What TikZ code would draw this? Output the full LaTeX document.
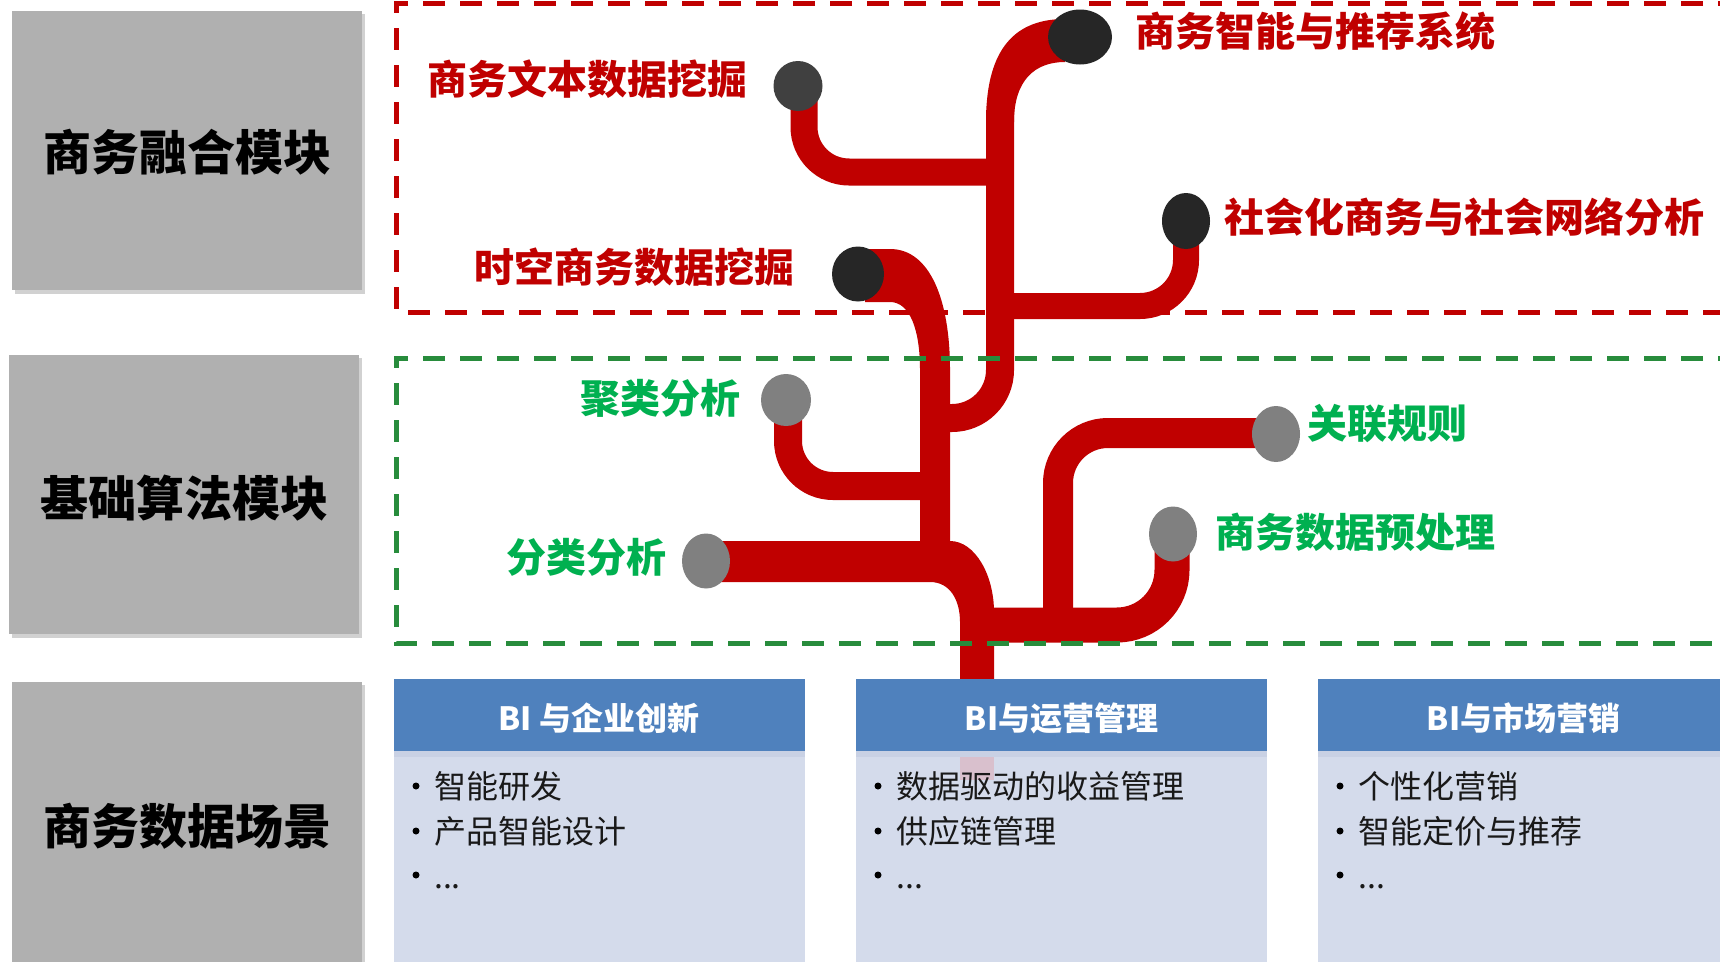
\documentclass[tikz,border=0pt]{standalone}
\usepackage{fontspec}
\newfontfamily\cjk{Noto Sans CJK SC}
\usetikzlibrary{shapes.geometric}
\definecolor{pipered}{RGB}{192,0,0}
\definecolor{labelred}{RGB}{192,0,0}
\definecolor{labelgreen}{RGB}{0,176,80}
\definecolor{dashgreen}{RGB}{40,140,60}
\definecolor{darkdot}{RGB}{38,38,38}
\definecolor{darkgraydot}{RGB}{64,64,64}
\definecolor{graydot}{RGB}{128,128,128}
\definecolor{leftgray}{RGB}{176,176,176}
\definecolor{headerblue}{RGB}{79,129,189}
\definecolor{bodyblue}{RGB}{212,219,235}
\definecolor{bodystrip}{RGB}{201,209,228}
\definecolor{pinkish}{RGB}{217,192,205}
\tikzset{
  modbox/.style={fill=leftgray, draw=none},
  modshadow/.style={fill=black, opacity=0.18, draw=none},
  modtext/.style={font=\cjk\bfseries\fontsize{48}{56}\selectfont, text=black, inner sep=0pt},
  pipe/.style={draw=pipered, line cap=butt},
  blob/.style={ellipse, inner sep=0pt, outer sep=0pt, draw=none},
  redlabel/.style={font=\cjk\bfseries\fontsize{40}{48}\selectfont, text=labelred, inner sep=0pt},
  greenlabel/.style={font=\cjk\bfseries\fontsize{40}{48}\selectfont, text=labelgreen, inner sep=0pt},
  reddash/.style={draw=pipered, line width=5pt, dash pattern=on 22pt off 15pt},
  greendash/.style={draw=dashgreen, line width=5pt, dash pattern=on 22pt off 15pt},
  headtext/.style={font=\cjk\bfseries\fontsize{32}{38}\selectfont, text=white, inner sep=0pt},
  bodytext/.style={font=\cjk\fontsize{32}{38}\selectfont, text=black!90, inner sep=0pt, anchor=base west},
  bulletdot/.style={circle, fill=black, inner sep=0pt, minimum size=7pt},
}
\begin{document}
\begin{tikzpicture}[x=1pt,y=-1pt]
\useasboundingbox (0,0) rectangle (1720,961);
\clip (0,0) rectangle (1720,961);
\fill[white] (0,0) rectangle (1720,961);

% ---- left module boxes
\fill[modshadow] (15,14) rectangle (365,294);
\fill[modshadow] (12,358) rectangle (362,638);
\fill[modshadow] (15,685) rectangle (365,970);
\fill[modbox] (12,11) rectangle (362,290);
\fill[modbox] (9,355) rectangle (359,634);
\fill[modbox] (12,682) rectangle (362,970);
\node[modtext] (m1) at (187,152) {商务融合模块};
\node[modtext] (m2) at (184,498) {基础算法模块};
\node[modtext] (m3) at (187,826) {商务数据场景};

% ---- tree pipes
% 商务文本数据挖掘 branch
\draw[pipe, line width=27pt, rounded corners=45pt] (804,90) -- (804,172) -- (1000,172);
% 商务智能 branch, long vertical with hook
\draw[pipe, line width=28pt, rounded corners=48pt] (1000,110) -- (1000,418) -- (935,418);
\fill[pipered] (986,122) .. controls (986,55) and (1010,19) .. (1065,19) -- (1065,62)
   .. controls (1035,62) and (1014,80) .. (1014,122) -- cycle;
% 社会化商务 branch
\draw[pipe, line width=26pt, rounded corners=46pt] (1186,230) -- (1186,306) -- (1000,306);
% 时空商务 branch and left vertical
\fill[pipered] (865,249) -- (890,249) .. controls (930,249) and (950,300) .. (950,370)
   -- (950,548) -- (920,548) -- (920,370) .. controls (920,330) and (910,302) .. (890,302)
   -- (865,302) -- cycle;
% 聚类分析 branch
\draw[pipe, line width=28pt, rounded corners=45pt] (788,405) -- (788,486) -- (935,486);
% 分类分析 bar and trunk
\fill[pipered] (706,541) -- (950,541) .. controls (975,541) and (994,575) .. (994,612)
   -- (994,682) -- (960,682) -- (960,622) .. controls (960,600) and (950,582) .. (930,582)
   -- (706,582) -- cycle;
% bottom bar with 商务数据预处理
\draw[pipe, line width=35pt, rounded corners=55pt] (1172,520) -- (1172,625) -- (977,625);
% 关联规则 branch
\draw[pipe, line width=30pt, rounded corners=50pt] (1058,625) -- (1058,433) -- (1270,433);

% ---- end blobs
\node[blob, fill=darkdot, minimum width=64pt, minimum height=55pt] (eA) at (1080,37) {};
\node[blob, fill=darkgraydot, minimum width=49pt, minimum height=50pt] (eB) at (798,86) {};
\node[blob, fill=darkdot, minimum width=48pt, minimum height=56pt] (eC) at (1186,221) {};
\node[blob, fill=darkdot, minimum width=52pt, minimum height=55pt] (eD) at (858,274) {};
\node[blob, fill=graydot, minimum width=50pt, minimum height=52pt] (eE) at (786,400) {};
\node[blob, fill=graydot, minimum width=48pt, minimum height=55pt] (eF) at (706,561) {};
\node[blob, fill=graydot, minimum width=48pt, minimum height=56pt] (eG) at (1276,434) {};
\node[blob, fill=graydot, minimum width=48pt, minimum height=55pt] (eH) at (1173,534) {};

% ---- dashed module frames
\draw[reddash] (1740,3) -- (396,3) -- (396,312) -- (1740,312);
\draw[greendash] (1740,358) -- (396,358) -- (396,643) -- (1740,643);

% ---- labels
\node[redlabel, anchor=west] (lA) at (1135,31) {商务智能与推荐系统};
\node[redlabel, anchor=east] (lB) at (748,79) {商务文本数据挖掘};
\node[redlabel, anchor=west] (lC) at (1224,217) {社会化商务与社会网络分析};
\node[redlabel, anchor=east] (lD) at (795,267) {时空商务数据挖掘};
\node[greenlabel, anchor=east] (lE) at (741,398) {聚类分析};
\node[greenlabel, anchor=east] (lF) at (667,557) {分类分析};
\node[greenlabel, anchor=west] (lG) at (1307,424) {关联规则};
\node[greenlabel, anchor=west] (lH) at (1215,532) {商务数据预处理};

% ---- scenario boxes
\foreach \bx/\nm in {394/s1, 856/s2, 1318/s3}{
  \fill[bodyblue] (\bx,751) rectangle ++(411,220);
  \fill[bodystrip] (\bx,751) rectangle ++(411,6);
  \fill[headerblue] (\bx,679) rectangle ++(411,72);
}
\fill[pinkish] (960,757) rectangle (994,780);

\node[headtext] (h1) at (599,718) {BI 与企业创新};
\node[headtext] (h2) at (1061.5,718) {BI与运营管理};
\node[headtext] (h3) at (1523.5,718) {BI与市场营销};

\foreach \bx in {394, 856, 1318}{
  \node[bulletdot] at (\bx+22,786) {};
  \node[bulletdot] at (\bx+22,831) {};
  \node[bulletdot] at (\bx+22,875) {};
  \node[bodytext] at (\bx+40,888) {...};
}
\node[bodytext] (t11) at (434,798) {智能研发};
\node[bodytext] (t12) at (434,843) {产品智能设计};
\node[bodytext] (t21) at (896,798) {数据驱动的收益管理};
\node[bodytext] (t22) at (896,843) {供应链管理};
\node[bodytext] (t31) at (1358,798) {个性化营销};
\node[bodytext] (t32) at (1358,843) {智能定价与推荐};
\end{tikzpicture}
\end{document}
